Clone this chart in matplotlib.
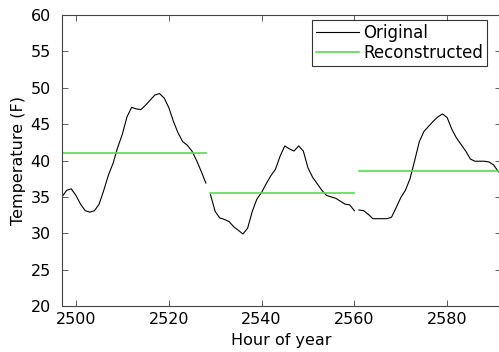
import numpy as np
import matplotlib
matplotlib.use('Agg')
import matplotlib.pyplot as plt

plt.rcParams['font.family'] = ['DejaVu Sans']

# hourly temperatures, one list per block
hours1 = list(range(2497, 2529))
temp1 = [35.0, 35.9, 36.1, 35.2, 34.0, 33.1, 32.9, 33.1, 34.0, 35.9,
         38.0, 39.6, 41.8, 43.6, 46.0, 47.3, 47.1, 47.0, 47.6, 48.3,
         49.0, 49.2, 48.6, 47.3, 45.4, 43.8, 42.6, 42.1, 41.3, 40.0,
         38.5, 36.9]
hours2 = list(range(2529, 2561))
temp2 = [35.3, 33.0, 32.1, 31.9, 31.6, 30.9, 30.4, 29.9, 30.7, 33.0,
         34.7, 35.6, 36.8, 37.9, 38.8, 40.6, 42.0, 41.6, 41.3, 42.0,
         41.3, 39.0, 37.7, 36.8, 35.9, 35.2, 35.0, 34.8, 34.4, 34.0,
         33.9, 33.1]
hours3 = list(range(2561, 2593))
temp3 = [33.2, 33.1, 32.6, 32.0, 32.0, 32.0, 32.0, 32.2, 33.5, 34.9,
         35.9, 37.5, 40.0, 42.6, 44.0, 44.7, 45.4, 46.0, 46.4, 45.9,
         44.3, 43.1, 42.2, 41.3, 40.2, 39.9, 39.9, 39.9, 39.8, 39.4,
         38.5, 37.8]

# reconstructed (block means)
block_start = [2497, 2529, 2561]
block_end = [2528, 2560, 2592]
block_value = [41.0, 35.6, 38.6]

green = '#55dd55'
fs = 11.5

fig = plt.figure(figsize=(4.99, 3.52), dpi=100)
ax = fig.add_axes([62/499, 46/352, (501-62)/499, (306-15)/352])

for i, (h, t) in enumerate([(hours1, temp1), (hours2, temp2), (hours3, temp3)]):
    ax.plot(h, t, color='black', lw=0.8, label='Original' if i == 0 else None)
for i in range(3):
    ax.plot([block_start[i], block_end[i]], [block_value[i]] * 2, color=green,
            lw=1.2, label='Reconstructed' if i == 0 else None)

ax.set_xlim(2497, 2591.6)
ax.set_ylim(20, 60)
ax.set_xticks([2500, 2520, 2540, 2560, 2580])
ax.set_yticks(np.arange(20, 61, 5))
ax.tick_params(direction='in', top=True, right=True, length=4, width=0.6,
               color='#444444', labelsize=fs)
ax.tick_params(axis='x', pad=4)
ax.tick_params(axis='y', pad=8)
for s in ax.spines.values():
    s.set_color('#444444')
    s.set_linewidth(0.8)

ax.set_xlabel('Hour of year', fontsize=fs, labelpad=5)
ax.set_ylabel('Temperature (F)', fontsize=fs, labelpad=3)

leg = ax.legend(loc='upper right', bbox_to_anchor=(487/499, 1 - 20/352),
                bbox_transform=fig.transFigure, fontsize=12, frameon=True,
                fancybox=False, handlelength=2.6, handletextpad=0.25,
                borderpad=0.22, labelspacing=0.15, borderaxespad=0)
leg.get_frame().set_edgecolor('black')
leg.get_frame().set_linewidth(0.8)

fig.savefig('out.png', dpi=100)
